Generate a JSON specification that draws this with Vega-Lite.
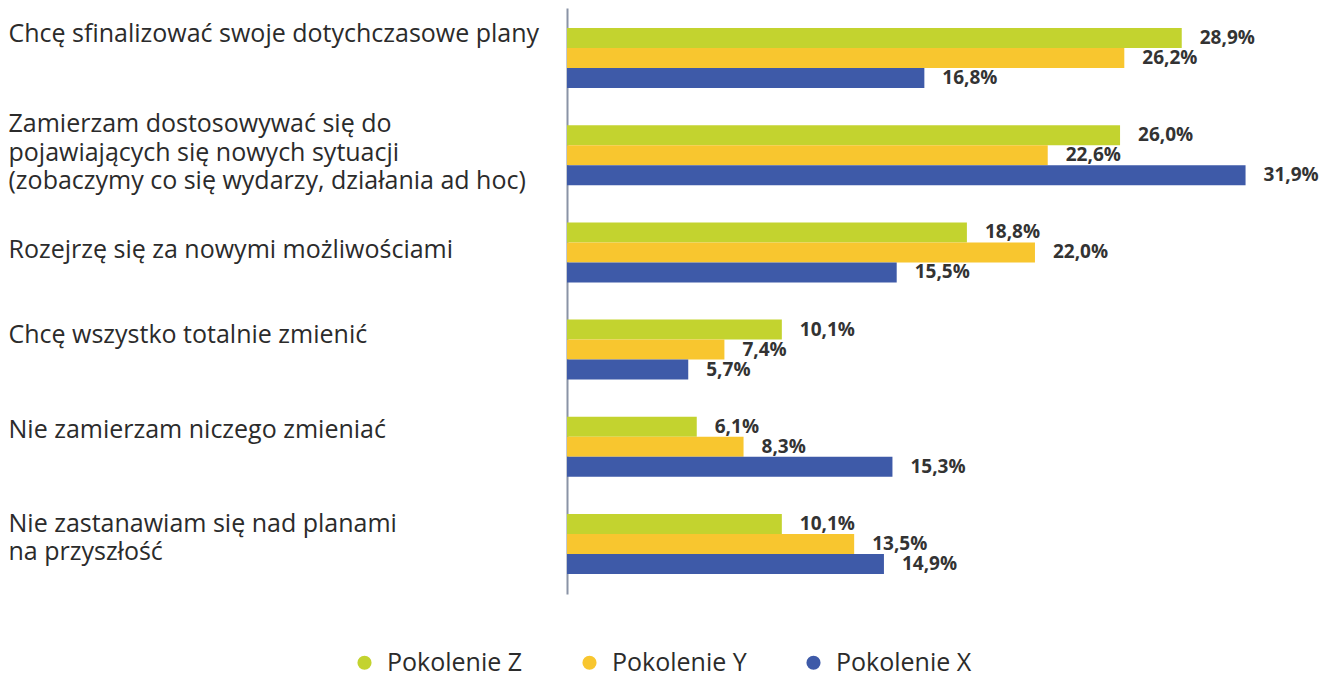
{
  "$schema": "https://vega.github.io/schema/vega-lite/v6.json",
  "autosize": {"type": "none"},
  "padding": {"left": 567, "top": 8, "right": 0, "bottom": 83},
  "width": 763,
  "height": 586,
  "background": "white",
  "config": {"view": {"stroke": null}},
  "data": {
    "values": [
      {"cat": "Chcę sfinalizować swoje dotychczasowe plany", "gen": "Pokolenie Z", "value": 28.9},
      {"cat": "Chcę sfinalizować swoje dotychczasowe plany", "gen": "Pokolenie Y", "value": 26.2},
      {"cat": "Chcę sfinalizować swoje dotychczasowe plany", "gen": "Pokolenie X", "value": 16.8},
      {"cat": "Zamierzam dostosowywać się do|pojawiających się nowych sytuacji|(zobaczymy co się wydarzy, działania ad hoc)", "gen": "Pokolenie Z", "value": 26.0},
      {"cat": "Zamierzam dostosowywać się do|pojawiających się nowych sytuacji|(zobaczymy co się wydarzy, działania ad hoc)", "gen": "Pokolenie Y", "value": 22.6},
      {"cat": "Zamierzam dostosowywać się do|pojawiających się nowych sytuacji|(zobaczymy co się wydarzy, działania ad hoc)", "gen": "Pokolenie X", "value": 31.9},
      {"cat": "Rozejrzę się za nowymi możliwościami", "gen": "Pokolenie Z", "value": 18.8},
      {"cat": "Rozejrzę się za nowymi możliwościami", "gen": "Pokolenie Y", "value": 22.0},
      {"cat": "Rozejrzę się za nowymi możliwościami", "gen": "Pokolenie X", "value": 15.5},
      {"cat": "Chcę wszystko totalnie zmienić", "gen": "Pokolenie Z", "value": 10.1},
      {"cat": "Chcę wszystko totalnie zmienić", "gen": "Pokolenie Y", "value": 7.4},
      {"cat": "Chcę wszystko totalnie zmienić", "gen": "Pokolenie X", "value": 5.7},
      {"cat": "Nie zamierzam niczego zmieniać", "gen": "Pokolenie Z", "value": 6.1},
      {"cat": "Nie zamierzam niczego zmieniać", "gen": "Pokolenie Y", "value": 8.3},
      {"cat": "Nie zamierzam niczego zmieniać", "gen": "Pokolenie X", "value": 15.3},
      {"cat": "Nie zastanawiam się nad planami|na przyszłość", "gen": "Pokolenie Z", "value": 10.1},
      {"cat": "Nie zastanawiam się nad planami|na przyszłość", "gen": "Pokolenie Y", "value": 13.5},
      {"cat": "Nie zastanawiam się nad planami|na przyszłość", "gen": "Pokolenie X", "value": 14.9}
    ]
  },
  "transform": [
    {"calculate": "replace(format(datum.value, '.1f'), '.', ',') + '%'", "as": "label"}
  ],
  "encoding": {
    "y": {
      "field": "cat",
      "type": "nominal",
      "sort": null,
      "scale": {"paddingInner": 0.383, "paddingOuter": 0.206},
      "axis": {
        "title": null,
        "domainColor": "#8a93a6",
        "domainWidth": 2,
        "ticks": false,
        "tickSize": 0,
        "labelAlign": "left",
        "labelBaseline": "middle",
        "labelPadding": 559,
        "labelFont": "Open Sans",
        "labelFontSize": 25,
        "labelColor": "#2b2b2b",
        "labelLimit": 0,
        "labelLineHeight": 28.5,
        "labelExpr": "split(datum.value, '|')",
        "labelOffset": {
          "condition": [
            {"test": "indexof(datum.value, 'Chcę sfinalizować') === 0", "value": -24},
            {"test": "indexof(datum.value, 'Zamierzam') === 0", "value": -31},
            {"test": "indexof(datum.value, 'Chcę wszystko') === 0", "value": -15},
            {"test": "indexof(datum.value, 'Nie zamierzam') === 0", "value": -17},
            {"test": "indexof(datum.value, 'Nie zastanawiam') === 0", "value": -20}
          ],
          "value": -2
        }
      }
    },
    "yOffset": {
      "field": "gen",
      "type": "nominal",
      "sort": ["Pokolenie Z", "Pokolenie Y", "Pokolenie X"],
      "scale": {"paddingInner": 0, "paddingOuter": 0}
    },
    "x": {
      "field": "value",
      "type": "quantitative",
      "scale": {"domain": [0, 35.87], "nice": false, "zero": true},
      "axis": null
    }
  },
  "layer": [
    {
      "mark": {"type": "bar"},
      "encoding": {
        "color": {
          "field": "gen",
          "type": "nominal",
          "scale": {
            "domain": ["Pokolenie Z", "Pokolenie Y", "Pokolenie X"],
            "range": ["#c3d32f", "#f8c62f", "#3e5aa8"]
          },
          "legend": {
            "orient": "none",
            "legendX": -215,
            "legendY": 642,
            "direction": "horizontal",
            "title": null,
            "symbolType": "circle",
            "symbolSize": 200,
            "symbolStrokeWidth": 0,
            "labelFont": "Open Sans",
            "labelFontSize": 25,
            "labelColor": "#2b2b2b",
            "labelOffset": 10,
            "columnPadding": 54,
            "padding": 0
          }
        }
      }
    },
    {
      "mark": {
        "type": "text",
        "align": "left",
        "baseline": "middle",
        "dx": 18,
        "dy": 0,
        "font": "Open Sans",
        "fontWeight": "bold",
        "fontSize": 19,
        "color": "#333333"
      },
      "encoding": {"text": {"field": "label"}}
    }
  ]
}
